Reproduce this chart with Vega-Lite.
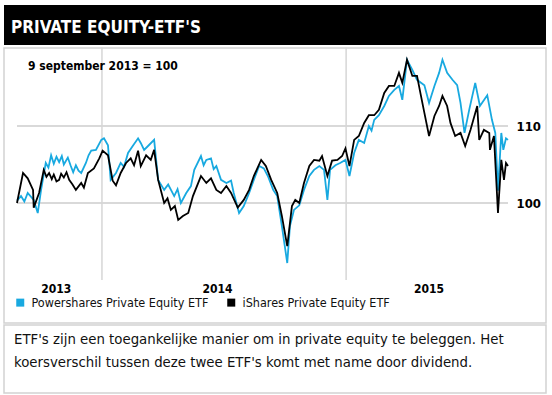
{
  "$schema": "https://vega.github.io/schema/vega-lite/v6.json",
  "padding": {"left": 3, "top": 5, "right": 7, "bottom": 7},
  "autosize": {"type": "pad"},
  "background": "white",
  "spacing": 0,
  "resolve": {"legend": {"color": "independent"}},
  "config": {
    "font": "DejaVu Sans Condensed, DejaVu Sans, sans-serif",
    "view": {"stroke": null},
    "title": {"font": "DejaVu Sans Condensed, DejaVu Sans, sans-serif"}
  },
  "vconcat": [
    {
      "width": 542,
      "height": 40,
      "view": {"fill": "#000000", "stroke": null},
      "data": {"values": [{}]},
      "mark": {"type": "rect", "color": "#000000"},
      "title": {
        "text": "PRIVATE EQUITY-ETF'S",
        "anchor": "start",
        "orient": "top",
        "offset": 0,
        "baseline": "alphabetic",
        "dx": 7,
        "dy": 45,
        "color": "#ffffff",
        "fontSize": 17,
        "fontWeight": "bold"
      }
    },
    {
      "width": 542,
      "height": 275,
      "view": {"stroke": "#d2d2d2", "strokeWidth": 1.5},
      "title": {
        "text": "9 september 2013 = 100",
        "anchor": "start",
        "orient": "top",
        "offset": 0,
        "baseline": "alphabetic",
        "dx": 24,
        "dy": 35,
        "color": "#000000",
        "fontSize": 12,
        "fontWeight": "bold"
      },
      "layer": [
        {
          "data": {"values": [{"v": 100}, {"v": 110}]},
          "mark": {"type": "rule", "color": "#cccccc", "strokeWidth": 1.5},
          "encoding": {
            "y": {"field": "v", "type": "quantitative", "scale": {"domain": [90, 120], "range": [232, 1], "nice": false, "zero": false}},
            "x": {"datum": {"year": 2013, "month": 8, "date": 27}, "type": "temporal", "scale": {"domain": [{"year": 2013, "month": 8, "date": 27}, {"year": 2015, "month": 8, "date": 31}], "range": [13, 504], "nice": false}},
            "x2": {"datum": {"year": 2015, "month": 8, "date": 31}}
          }
        },
        {
          "data": {"values": [{"d": "2014-01-01"}, {"d": "2015-01-01"}]},
          "mark": {"type": "rule", "color": "#d6d6d6", "strokeWidth": 1.5},
          "encoding": {
            "x": {"field": "d", "type": "temporal"},
            "y": {"datum": 90, "type": "quantitative"},
            "y2": {"datum": 120.2}
          }
        },
        {
          "data": {"values": [
            {"date": "2013-08-27", "etf": "Powershares Private Equity ETF", "v": 100.3},
            {"date": "2013-09-02", "etf": "Powershares Private Equity ETF", "v": 100.9},
            {"date": "2013-09-07", "etf": "Powershares Private Equity ETF", "v": 100.2},
            {"date": "2013-09-12", "etf": "Powershares Private Equity ETF", "v": 101.3},
            {"date": "2013-09-21", "etf": "Powershares Private Equity ETF", "v": 100.4},
            {"date": "2013-09-27", "etf": "Powershares Private Equity ETF", "v": 98.7},
            {"date": "2013-10-02", "etf": "Powershares Private Equity ETF", "v": 101.7},
            {"date": "2013-10-09", "etf": "Powershares Private Equity ETF", "v": 105.2},
            {"date": "2013-10-13", "etf": "Powershares Private Equity ETF", "v": 104.6},
            {"date": "2013-10-17", "etf": "Powershares Private Equity ETF", "v": 106.2},
            {"date": "2013-10-21", "etf": "Powershares Private Equity ETF", "v": 105.1},
            {"date": "2013-10-25", "etf": "Powershares Private Equity ETF", "v": 106.0},
            {"date": "2013-10-29", "etf": "Powershares Private Equity ETF", "v": 105.3},
            {"date": "2013-11-02", "etf": "Powershares Private Equity ETF", "v": 106.1},
            {"date": "2013-11-05", "etf": "Powershares Private Equity ETF", "v": 105.0},
            {"date": "2013-11-11", "etf": "Powershares Private Equity ETF", "v": 105.9},
            {"date": "2013-11-15", "etf": "Powershares Private Equity ETF", "v": 104.9},
            {"date": "2013-11-19", "etf": "Powershares Private Equity ETF", "v": 104.0},
            {"date": "2013-11-23", "etf": "Powershares Private Equity ETF", "v": 104.9},
            {"date": "2013-11-27", "etf": "Powershares Private Equity ETF", "v": 104.2},
            {"date": "2013-12-01", "etf": "Powershares Private Equity ETF", "v": 103.9},
            {"date": "2013-12-08", "etf": "Powershares Private Equity ETF", "v": 105.2},
            {"date": "2013-12-12", "etf": "Powershares Private Equity ETF", "v": 106.2},
            {"date": "2013-12-16", "etf": "Powershares Private Equity ETF", "v": 106.8},
            {"date": "2013-12-23", "etf": "Powershares Private Equity ETF", "v": 106.9},
            {"date": "2013-12-31", "etf": "Powershares Private Equity ETF", "v": 108.2},
            {"date": "2014-01-04", "etf": "Powershares Private Equity ETF", "v": 108.4},
            {"date": "2014-01-10", "etf": "Powershares Private Equity ETF", "v": 107.5},
            {"date": "2014-01-14", "etf": "Powershares Private Equity ETF", "v": 103.0},
            {"date": "2014-01-22", "etf": "Powershares Private Equity ETF", "v": 103.9},
            {"date": "2014-01-29", "etf": "Powershares Private Equity ETF", "v": 105.2},
            {"date": "2014-02-03", "etf": "Powershares Private Equity ETF", "v": 104.7},
            {"date": "2014-02-09", "etf": "Powershares Private Equity ETF", "v": 106.5},
            {"date": "2014-02-16", "etf": "Powershares Private Equity ETF", "v": 107.4},
            {"date": "2014-02-24", "etf": "Powershares Private Equity ETF", "v": 108.4},
            {"date": "2014-02-28", "etf": "Powershares Private Equity ETF", "v": 107.8},
            {"date": "2014-03-05", "etf": "Powershares Private Equity ETF", "v": 106.9},
            {"date": "2014-03-12", "etf": "Powershares Private Equity ETF", "v": 107.5},
            {"date": "2014-03-20", "etf": "Powershares Private Equity ETF", "v": 108.2},
            {"date": "2014-03-26", "etf": "Powershares Private Equity ETF", "v": 103.0},
            {"date": "2014-04-04", "etf": "Powershares Private Equity ETF", "v": 101.7},
            {"date": "2014-04-10", "etf": "Powershares Private Equity ETF", "v": 102.4},
            {"date": "2014-04-19", "etf": "Powershares Private Equity ETF", "v": 100.9},
            {"date": "2014-04-24", "etf": "Powershares Private Equity ETF", "v": 101.8},
            {"date": "2014-04-29", "etf": "Powershares Private Equity ETF", "v": 100.0},
            {"date": "2014-05-07", "etf": "Powershares Private Equity ETF", "v": 101.3},
            {"date": "2014-05-14", "etf": "Powershares Private Equity ETF", "v": 102.2},
            {"date": "2014-05-19", "etf": "Powershares Private Equity ETF", "v": 104.3},
            {"date": "2014-05-29", "etf": "Powershares Private Equity ETF", "v": 106.1},
            {"date": "2014-06-02", "etf": "Powershares Private Equity ETF", "v": 104.9},
            {"date": "2014-06-06", "etf": "Powershares Private Equity ETF", "v": 105.6},
            {"date": "2014-06-13", "etf": "Powershares Private Equity ETF", "v": 105.8},
            {"date": "2014-06-17", "etf": "Powershares Private Equity ETF", "v": 104.4},
            {"date": "2014-06-21", "etf": "Powershares Private Equity ETF", "v": 104.8},
            {"date": "2014-06-28", "etf": "Powershares Private Equity ETF", "v": 103.0},
            {"date": "2014-07-06", "etf": "Powershares Private Equity ETF", "v": 102.6},
            {"date": "2014-07-13", "etf": "Powershares Private Equity ETF", "v": 102.9},
            {"date": "2014-07-17", "etf": "Powershares Private Equity ETF", "v": 101.3},
            {"date": "2014-07-25", "etf": "Powershares Private Equity ETF", "v": 98.7},
            {"date": "2014-08-01", "etf": "Powershares Private Equity ETF", "v": 99.6},
            {"date": "2014-08-09", "etf": "Powershares Private Equity ETF", "v": 101.3},
            {"date": "2014-08-16", "etf": "Powershares Private Equity ETF", "v": 103.0},
            {"date": "2014-08-24", "etf": "Powershares Private Equity ETF", "v": 104.8},
            {"date": "2014-08-31", "etf": "Powershares Private Equity ETF", "v": 104.5},
            {"date": "2014-09-06", "etf": "Powershares Private Equity ETF", "v": 103.5},
            {"date": "2014-09-14", "etf": "Powershares Private Equity ETF", "v": 101.7},
            {"date": "2014-09-20", "etf": "Powershares Private Equity ETF", "v": 100.9},
            {"date": "2014-09-27", "etf": "Powershares Private Equity ETF", "v": 97.0},
            {"date": "2014-10-05", "etf": "Powershares Private Equity ETF", "v": 92.2},
            {"date": "2014-10-09", "etf": "Powershares Private Equity ETF", "v": 97.0},
            {"date": "2014-10-15", "etf": "Powershares Private Equity ETF", "v": 99.1},
            {"date": "2014-10-23", "etf": "Powershares Private Equity ETF", "v": 99.7},
            {"date": "2014-10-30", "etf": "Powershares Private Equity ETF", "v": 101.7},
            {"date": "2014-11-07", "etf": "Powershares Private Equity ETF", "v": 103.5},
            {"date": "2014-11-14", "etf": "Powershares Private Equity ETF", "v": 104.3},
            {"date": "2014-11-22", "etf": "Powershares Private Equity ETF", "v": 104.8},
            {"date": "2014-11-29", "etf": "Powershares Private Equity ETF", "v": 104.3},
            {"date": "2014-12-04", "etf": "Powershares Private Equity ETF", "v": 100.4},
            {"date": "2014-12-08", "etf": "Powershares Private Equity ETF", "v": 104.3},
            {"date": "2014-12-16", "etf": "Powershares Private Equity ETF", "v": 104.9},
            {"date": "2014-12-23", "etf": "Powershares Private Equity ETF", "v": 105.2},
            {"date": "2014-12-31", "etf": "Powershares Private Equity ETF", "v": 105.6},
            {"date": "2015-01-06", "etf": "Powershares Private Equity ETF", "v": 103.5},
            {"date": "2015-01-13", "etf": "Powershares Private Equity ETF", "v": 106.5},
            {"date": "2015-01-20", "etf": "Powershares Private Equity ETF", "v": 108.2},
            {"date": "2015-01-28", "etf": "Powershares Private Equity ETF", "v": 107.8},
            {"date": "2015-02-04", "etf": "Powershares Private Equity ETF", "v": 110.0},
            {"date": "2015-02-08", "etf": "Powershares Private Equity ETF", "v": 109.4},
            {"date": "2015-02-12", "etf": "Powershares Private Equity ETF", "v": 110.8},
            {"date": "2015-02-19", "etf": "Powershares Private Equity ETF", "v": 111.4},
            {"date": "2015-02-27", "etf": "Powershares Private Equity ETF", "v": 112.6},
            {"date": "2015-03-06", "etf": "Powershares Private Equity ETF", "v": 113.9},
            {"date": "2015-03-14", "etf": "Powershares Private Equity ETF", "v": 114.7},
            {"date": "2015-03-21", "etf": "Powershares Private Equity ETF", "v": 115.2},
            {"date": "2015-03-26", "etf": "Powershares Private Equity ETF", "v": 113.4},
            {"date": "2015-04-02", "etf": "Powershares Private Equity ETF", "v": 118.6},
            {"date": "2015-04-10", "etf": "Powershares Private Equity ETF", "v": 117.3},
            {"date": "2015-04-17", "etf": "Powershares Private Equity ETF", "v": 116.0},
            {"date": "2015-04-28", "etf": "Powershares Private Equity ETF", "v": 115.3},
            {"date": "2015-05-05", "etf": "Powershares Private Equity ETF", "v": 113.0},
            {"date": "2015-05-13", "etf": "Powershares Private Equity ETF", "v": 115.2},
            {"date": "2015-05-20", "etf": "Powershares Private Equity ETF", "v": 116.9},
            {"date": "2015-05-25", "etf": "Powershares Private Equity ETF", "v": 118.6},
            {"date": "2015-06-01", "etf": "Powershares Private Equity ETF", "v": 116.9},
            {"date": "2015-06-09", "etf": "Powershares Private Equity ETF", "v": 116.0},
            {"date": "2015-06-16", "etf": "Powershares Private Equity ETF", "v": 115.3},
            {"date": "2015-06-21", "etf": "Powershares Private Equity ETF", "v": 113.0},
            {"date": "2015-06-27", "etf": "Powershares Private Equity ETF", "v": 109.1},
            {"date": "2015-07-04", "etf": "Powershares Private Equity ETF", "v": 112.1},
            {"date": "2015-07-13", "etf": "Powershares Private Equity ETF", "v": 115.6},
            {"date": "2015-07-20", "etf": "Powershares Private Equity ETF", "v": 112.6},
            {"date": "2015-07-31", "etf": "Powershares Private Equity ETF", "v": 114.0},
            {"date": "2015-08-07", "etf": "Powershares Private Equity ETF", "v": 110.8},
            {"date": "2015-08-12", "etf": "Powershares Private Equity ETF", "v": 109.1},
            {"date": "2015-08-15", "etf": "Powershares Private Equity ETF", "v": 103.5},
            {"date": "2015-08-16", "etf": "Powershares Private Equity ETF", "v": 101.6},
            {"date": "2015-08-21", "etf": "Powershares Private Equity ETF", "v": 109.1},
            {"date": "2015-08-24", "etf": "Powershares Private Equity ETF", "v": 106.9},
            {"date": "2015-08-28", "etf": "Powershares Private Equity ETF", "v": 108.4},
            {"date": "2015-08-31", "etf": "Powershares Private Equity ETF", "v": 108.2},
            {"date": "2013-08-27", "etf": "iShares Private Equity ETF", "v": 100.0},
            {"date": "2013-09-05", "etf": "iShares Private Equity ETF", "v": 103.9},
            {"date": "2013-09-12", "etf": "iShares Private Equity ETF", "v": 103.2},
            {"date": "2013-09-20", "etf": "iShares Private Equity ETF", "v": 101.7},
            {"date": "2013-09-21", "etf": "iShares Private Equity ETF", "v": 99.4},
            {"date": "2013-09-29", "etf": "iShares Private Equity ETF", "v": 101.3},
            {"date": "2013-10-06", "etf": "iShares Private Equity ETF", "v": 104.3},
            {"date": "2013-10-10", "etf": "iShares Private Equity ETF", "v": 103.4},
            {"date": "2013-10-14", "etf": "iShares Private Equity ETF", "v": 103.9},
            {"date": "2013-10-18", "etf": "iShares Private Equity ETF", "v": 103.1},
            {"date": "2013-10-21", "etf": "iShares Private Equity ETF", "v": 103.7},
            {"date": "2013-10-25", "etf": "iShares Private Equity ETF", "v": 102.8},
            {"date": "2013-10-29", "etf": "iShares Private Equity ETF", "v": 103.0},
            {"date": "2013-11-01", "etf": "iShares Private Equity ETF", "v": 103.8},
            {"date": "2013-11-05", "etf": "iShares Private Equity ETF", "v": 103.3},
            {"date": "2013-11-09", "etf": "iShares Private Equity ETF", "v": 104.0},
            {"date": "2013-11-13", "etf": "iShares Private Equity ETF", "v": 103.0},
            {"date": "2013-11-18", "etf": "iShares Private Equity ETF", "v": 102.4},
            {"date": "2013-11-23", "etf": "iShares Private Equity ETF", "v": 101.7},
            {"date": "2013-12-01", "etf": "iShares Private Equity ETF", "v": 102.6},
            {"date": "2013-12-05", "etf": "iShares Private Equity ETF", "v": 102.0},
            {"date": "2013-12-11", "etf": "iShares Private Equity ETF", "v": 103.9},
            {"date": "2013-12-20", "etf": "iShares Private Equity ETF", "v": 104.5},
            {"date": "2013-12-28", "etf": "iShares Private Equity ETF", "v": 105.8},
            {"date": "2014-01-02", "etf": "iShares Private Equity ETF", "v": 106.8},
            {"date": "2014-01-10", "etf": "iShares Private Equity ETF", "v": 106.2},
            {"date": "2014-01-17", "etf": "iShares Private Equity ETF", "v": 102.9},
            {"date": "2014-01-22", "etf": "iShares Private Equity ETF", "v": 102.3},
            {"date": "2014-01-29", "etf": "iShares Private Equity ETF", "v": 103.9},
            {"date": "2014-02-06", "etf": "iShares Private Equity ETF", "v": 105.2},
            {"date": "2014-02-13", "etf": "iShares Private Equity ETF", "v": 105.8},
            {"date": "2014-02-18", "etf": "iShares Private Equity ETF", "v": 104.9},
            {"date": "2014-02-24", "etf": "iShares Private Equity ETF", "v": 106.8},
            {"date": "2014-02-28", "etf": "iShares Private Equity ETF", "v": 104.8},
            {"date": "2014-03-08", "etf": "iShares Private Equity ETF", "v": 106.2},
            {"date": "2014-03-15", "etf": "iShares Private Equity ETF", "v": 105.6},
            {"date": "2014-03-20", "etf": "iShares Private Equity ETF", "v": 106.9},
            {"date": "2014-03-26", "etf": "iShares Private Equity ETF", "v": 103.0},
            {"date": "2014-04-04", "etf": "iShares Private Equity ETF", "v": 100.0},
            {"date": "2014-04-09", "etf": "iShares Private Equity ETF", "v": 100.6},
            {"date": "2014-04-14", "etf": "iShares Private Equity ETF", "v": 99.1},
            {"date": "2014-04-20", "etf": "iShares Private Equity ETF", "v": 99.6},
            {"date": "2014-04-25", "etf": "iShares Private Equity ETF", "v": 97.8},
            {"date": "2014-05-02", "etf": "iShares Private Equity ETF", "v": 98.3},
            {"date": "2014-05-10", "etf": "iShares Private Equity ETF", "v": 98.7},
            {"date": "2014-05-17", "etf": "iShares Private Equity ETF", "v": 100.9},
            {"date": "2014-05-29", "etf": "iShares Private Equity ETF", "v": 103.5},
            {"date": "2014-06-06", "etf": "iShares Private Equity ETF", "v": 102.6},
            {"date": "2014-06-13", "etf": "iShares Private Equity ETF", "v": 103.2},
            {"date": "2014-06-21", "etf": "iShares Private Equity ETF", "v": 101.7},
            {"date": "2014-06-28", "etf": "iShares Private Equity ETF", "v": 101.3},
            {"date": "2014-07-06", "etf": "iShares Private Equity ETF", "v": 102.2},
            {"date": "2014-07-13", "etf": "iShares Private Equity ETF", "v": 101.3},
            {"date": "2014-07-23", "etf": "iShares Private Equity ETF", "v": 99.4},
            {"date": "2014-08-01", "etf": "iShares Private Equity ETF", "v": 100.4},
            {"date": "2014-08-09", "etf": "iShares Private Equity ETF", "v": 101.7},
            {"date": "2014-08-16", "etf": "iShares Private Equity ETF", "v": 103.5},
            {"date": "2014-08-27", "etf": "iShares Private Equity ETF", "v": 105.6},
            {"date": "2014-09-03", "etf": "iShares Private Equity ETF", "v": 104.8},
            {"date": "2014-09-11", "etf": "iShares Private Equity ETF", "v": 103.0},
            {"date": "2014-09-20", "etf": "iShares Private Equity ETF", "v": 101.3},
            {"date": "2014-09-27", "etf": "iShares Private Equity ETF", "v": 98.3},
            {"date": "2014-10-05", "etf": "iShares Private Equity ETF", "v": 94.4},
            {"date": "2014-10-12", "etf": "iShares Private Equity ETF", "v": 99.6},
            {"date": "2014-10-17", "etf": "iShares Private Equity ETF", "v": 100.4},
            {"date": "2014-10-23", "etf": "iShares Private Equity ETF", "v": 100.0},
            {"date": "2014-10-30", "etf": "iShares Private Equity ETF", "v": 102.6},
            {"date": "2014-11-07", "etf": "iShares Private Equity ETF", "v": 104.8},
            {"date": "2014-11-14", "etf": "iShares Private Equity ETF", "v": 105.6},
            {"date": "2014-11-22", "etf": "iShares Private Equity ETF", "v": 105.5},
            {"date": "2014-11-26", "etf": "iShares Private Equity ETF", "v": 106.1},
            {"date": "2014-12-04", "etf": "iShares Private Equity ETF", "v": 103.5},
            {"date": "2014-12-11", "etf": "iShares Private Equity ETF", "v": 105.5},
            {"date": "2014-12-19", "etf": "iShares Private Equity ETF", "v": 105.6},
            {"date": "2014-12-26", "etf": "iShares Private Equity ETF", "v": 106.1},
            {"date": "2014-12-31", "etf": "iShares Private Equity ETF", "v": 107.1},
            {"date": "2015-01-06", "etf": "iShares Private Equity ETF", "v": 104.8},
            {"date": "2015-01-13", "etf": "iShares Private Equity ETF", "v": 108.2},
            {"date": "2015-01-20", "etf": "iShares Private Equity ETF", "v": 108.7},
            {"date": "2015-01-28", "etf": "iShares Private Equity ETF", "v": 110.4},
            {"date": "2015-02-04", "etf": "iShares Private Equity ETF", "v": 111.4},
            {"date": "2015-02-12", "etf": "iShares Private Equity ETF", "v": 111.4},
            {"date": "2015-02-19", "etf": "iShares Private Equity ETF", "v": 112.1},
            {"date": "2015-02-27", "etf": "iShares Private Equity ETF", "v": 114.3},
            {"date": "2015-03-06", "etf": "iShares Private Equity ETF", "v": 115.2},
            {"date": "2015-03-14", "etf": "iShares Private Equity ETF", "v": 115.2},
            {"date": "2015-03-21", "etf": "iShares Private Equity ETF", "v": 116.9},
            {"date": "2015-03-26", "etf": "iShares Private Equity ETF", "v": 115.6},
            {"date": "2015-04-02", "etf": "iShares Private Equity ETF", "v": 118.6},
            {"date": "2015-04-10", "etf": "iShares Private Equity ETF", "v": 116.5},
            {"date": "2015-04-17", "etf": "iShares Private Equity ETF", "v": 116.5},
            {"date": "2015-04-22", "etf": "iShares Private Equity ETF", "v": 114.3},
            {"date": "2015-04-28", "etf": "iShares Private Equity ETF", "v": 111.7},
            {"date": "2015-05-05", "etf": "iShares Private Equity ETF", "v": 108.7},
            {"date": "2015-05-13", "etf": "iShares Private Equity ETF", "v": 111.3},
            {"date": "2015-05-20", "etf": "iShares Private Equity ETF", "v": 112.6},
            {"date": "2015-05-25", "etf": "iShares Private Equity ETF", "v": 113.9},
            {"date": "2015-06-01", "etf": "iShares Private Equity ETF", "v": 112.6},
            {"date": "2015-06-06", "etf": "iShares Private Equity ETF", "v": 110.4},
            {"date": "2015-06-13", "etf": "iShares Private Equity ETF", "v": 108.7},
            {"date": "2015-06-21", "etf": "iShares Private Equity ETF", "v": 109.1},
            {"date": "2015-06-28", "etf": "iShares Private Equity ETF", "v": 107.4},
            {"date": "2015-07-06", "etf": "iShares Private Equity ETF", "v": 109.5},
            {"date": "2015-07-16", "etf": "iShares Private Equity ETF", "v": 112.6},
            {"date": "2015-07-19", "etf": "iShares Private Equity ETF", "v": 108.2},
            {"date": "2015-07-26", "etf": "iShares Private Equity ETF", "v": 109.5},
            {"date": "2015-08-03", "etf": "iShares Private Equity ETF", "v": 109.1},
            {"date": "2015-08-04", "etf": "iShares Private Equity ETF", "v": 106.9},
            {"date": "2015-08-10", "etf": "iShares Private Equity ETF", "v": 108.7},
            {"date": "2015-08-15", "etf": "iShares Private Equity ETF", "v": 100.4},
            {"date": "2015-08-16", "etf": "iShares Private Equity ETF", "v": 98.7},
            {"date": "2015-08-21", "etf": "iShares Private Equity ETF", "v": 105.6},
            {"date": "2015-08-25", "etf": "iShares Private Equity ETF", "v": 103.0},
            {"date": "2015-08-28", "etf": "iShares Private Equity ETF", "v": 105.2},
            {"date": "2015-08-31", "etf": "iShares Private Equity ETF", "v": 104.8}
          ]},
          "mark": {"type": "line", "strokeWidth": 1.8, "interpolate": "linear"},
          "encoding": {
            "x": {
              "field": "date", "type": "temporal",
              "axis": {
                "orient": "bottom",
                "values": [{"year": 2013, "month": 10, "date": 24}, {"year": 2014, "month": 6, "date": 22}, {"year": 2015, "month": 5, "date": 4}],
                "format": "%Y",
                "offset": -43,
                "ticks": false,
                "tickSize": 0,
                "domain": false,
                "grid": false,
                "title": null,
                "labelPadding": 3,
                "labelFontSize": 12,
                "labelFontWeight": "bold",
                "labelColor": "#000000",
                "labelFlush": false,
                "labelOverlap": false
              }
            },
            "y": {
              "field": "v", "type": "quantitative",
              "axis": {
                "orient": "right",
                "values": [100, 110],
                "offset": -30,
                "ticks": false,
                "tickSize": 0,
                "domain": false,
                "grid": false,
                "title": null,
                "labelPadding": 0,
                "labelFontSize": 13,
                "labelFontWeight": "bold",
                "labelColor": "#000000",
                "labelBaseline": "middle"
              }
            },
            "color": {
              "field": "etf", "type": "nominal",
              "scale": {"domain": ["Powershares Private Equity ETF", "iShares Private Equity ETF"], "range": ["#18a9e0", "#000000"]},
              "legend": {
                "orient": "bottom-left",
                "direction": "horizontal",
                "title": null,
                "offset": 10,
                "padding": 0,
                "symbolType": "square",
                "symbolSize": 16,
                "symbolStrokeWidth": 4,
                "labelFontSize": 12.5,
                "labelLimit": 400,
                "labelColor": "#111111",
                "labelOffset": 5,
                "columnPadding": 12
              }
            }
          }
        }
      ]
    },
    {
      "width": 542,
      "height": 68,
      "view": {"stroke": "#d2d2d2", "strokeWidth": 1.5},
      "data": {"values": [{}]},
      "mark": {"type": "text", "text": ""},
      "title": {
        "text": ["ETF's zijn een toegankelijke manier om in private equity te beleggen. Het", "koersverschil tussen deze twee ETF's komt met name door dividend."],
        "anchor": "start",
        "orient": "top",
        "offset": 0,
        "baseline": "alphabetic",
        "dx": 10,
        "dy": 57,
        "lineHeight": 23,
        "color": "#111111",
        "fontSize": 14.8,
        "fontWeight": "normal"
      }
    }
  ]
}
